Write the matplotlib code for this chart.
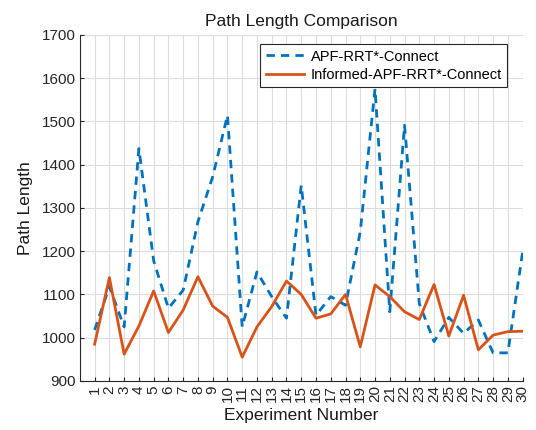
import matplotlib
matplotlib.use("Agg")
import matplotlib.pyplot as plt

plt.rcParams["font.family"] = ["Liberation Sans", "DejaVu Sans"]

# -----------------------------------------------------------------------------
# Data
# -----------------------------------------------------------------------------
experiments = list(range(1, 31))
apf_rrt_connect = [1018, 1118, 1025, 1437, 1178, 1068, 1110, 1268, 1372, 1514,
                   1025, 1152, 1095, 1045, 1352, 1052, 1095, 1075, 1245, 1575,
                   1060, 1491, 1079, 991, 1047, 1010, 1041, 965, 965, 1198]
informed_apf_rrt_connect = [985, 1139, 962, 1027, 1108, 1012, 1064, 1141, 1073, 1047,
                            955, 1025, 1072, 1131, 1100, 1045, 1055, 1100, 979, 1122,
                            1095, 1060, 1042, 1123, 1004, 1098, 972, 1006, 1014, 1015]

BLUE = "#0072BD"
ORANGE = "#D95319"

fig = plt.figure(figsize=(5.36, 4.30), dpi=100)
ax = fig.add_axes([0.149, 0.114, 0.826, 0.805])

ax.plot(experiments, apf_rrt_connect, color=BLUE, linestyle="--", linewidth=2,
        dashes=(3, 2.2), label="APF-RRT*-Connect")
ax.plot(experiments, informed_apf_rrt_connect, color=ORANGE, linewidth=2,
        label="Informed-APF-RRT*-Connect")

ax.set_xlim(0, 30)
ax.set_ylim(900, 1700)
ax.set_xticks(experiments)
ax.set_xticklabels([str(e) for e in experiments], rotation=90)
ax.set_yticks(range(900, 1701, 100))

ax.grid(True, color="#dcdcdc", linewidth=0.8)
ax.set_axisbelow(True)
for side in ("top", "right"):
    ax.spines[side].set_visible(False)
for side in ("left", "bottom"):
    ax.spines[side].set_color("#262626")
    ax.spines[side].set_linewidth(0.8)
ax.tick_params(direction="in", length=3, labelsize=11, colors="#262626", pad=3)

ax.set_title("Path Length Comparison", fontsize=12.5, color="#1a1a1a", pad=6)
ax.set_xlabel("Experiment Number", fontsize=12.5, color="#1a1a1a", labelpad=4)
ax.set_ylabel("Path Length", fontsize=12.5, color="#1a1a1a", labelpad=6)

leg = ax.legend(loc="upper right", bbox_to_anchor=(0.975, 0.985), fontsize=10.5,
                fancybox=False, framealpha=1, edgecolor="#262626",
                handlelength=2.6, borderpad=0.35, labelspacing=0.3,
                handletextpad=0.5, borderaxespad=0.3)
leg.get_frame().set_linewidth(0.8)

fig.savefig("out.png", dpi=100)
